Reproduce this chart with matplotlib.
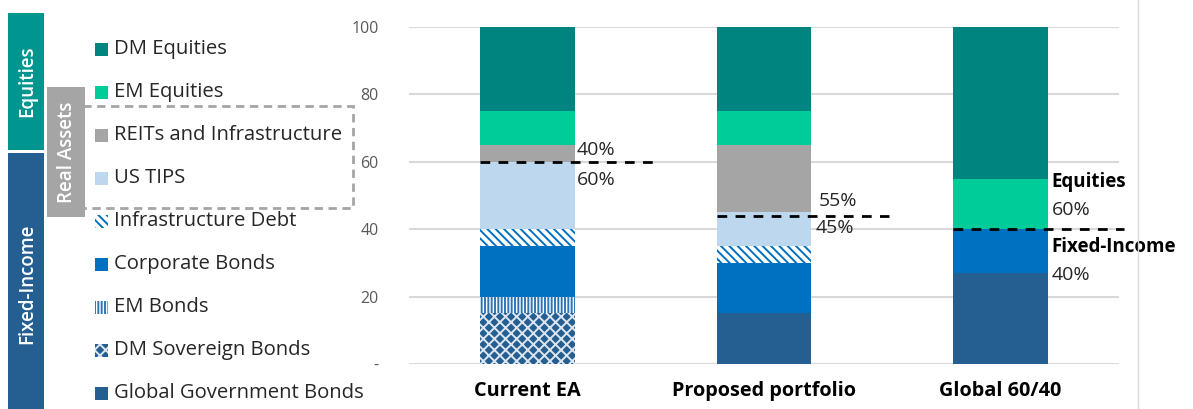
import numpy as np
import matplotlib
matplotlib.use("Agg")
import matplotlib.pyplot as plt
from matplotlib.patches import Rectangle

plt.rcParams['font.family'] = ['Open Sans', 'DejaVu Sans']
plt.rcParams['hatch.linewidth'] = 1.4

# data (stacked from bottom to top)
portfolios = ["Current EA", "Proposed portfolio", "Global 60/40"]
assets = ["Global Government Bonds", "DM Sovereign Bonds", "EM Bonds", "Corporate Bonds",
          "Infrastructure Debt", "US TIPS", "REITs and Infrastructure", "EM Equities", "DM Equities"]
current_ea = [0, 15, 5, 15, 5, 20, 5, 10, 25]
proposed = [15, 0, 0, 15, 5, 10, 20, 10, 25]
global_6040 = [27, 0, 0, 13, 0, 0, 0, 15, 45]
split_level = [60, 44, 40]
split_upper = ["40%", "55%", "60%"]
split_lower = ["60%", "45%", "40%"]

# styles per asset: facecolor, edgecolor (hatch colour), hatch
styles = {
    "Global Government Bonds": ("#255E91", "#255E91", None),
    "DM Sovereign Bonds": ("#255E91", "#DDE6F0", "xxx"),
    "EM Bonds": ("white", "#2E75B6", "|||||"),
    "Corporate Bonds": ("#0070C0", "#0070C0", None),
    "Infrastructure Debt": ("white", "#0070C0", "\\\\\\\\"),
    "US TIPS": ("#BDD7EE", "#BDD7EE", None),
    "REITs and Infrastructure": ("#A5A5A5", "#A5A5A5", None),
    "EM Equities": ("#00CC99", "#00CC99", None),
    "DM Equities": ("#00847F", "#00847F", None),
}

fig = plt.figure(figsize=(11.93, 4.09), dpi=100)
ax = fig.add_axes([409 / 1193, 45 / 409, 710 / 1193, 337 / 409])

data = np.array([current_ea, proposed, global_6040])
x = np.arange(len(portfolios))
bottom = np.zeros(len(portfolios))
for j, a in enumerate(assets):
    fc, ec, h = styles[a]
    ax.bar(x, data[:, j], 0.4, bottom=bottom, color=fc, edgecolor=ec, hatch=h,
           linewidth=0, zorder=2)
    bottom += data[:, j]

ax.set_xlim(-0.5, 2.5)
ax.set_ylim(0, 100)
ax.set_yticks([0, 20, 40, 60, 80, 100])
ax.set_yticklabels(["-", "20", "40", "60", "80", "100"], color="#595959", fontsize=11.5)
ax.yaxis.grid(True, color="#D9D9D9", linewidth=1.5, zorder=0)
ax.set_axisbelow(True)
ax.set_xticks(x)
ax.set_xticklabels(portfolios, fontsize=14.3, fontweight="bold")
ax.tick_params(axis="both", length=0, pad=22)
ax.tick_params(axis="x", pad=12)
for s in ax.spines.values():
    s.set_visible(False)

# split lines and labels
ends = [0.54, 1.53, 2.52]
for i in range(len(portfolios)):
    ax.plot([i - 0.2, ends[i]], [split_level[i], split_level[i]], color="black",
            linestyle=(0, (3.5, 3)), linewidth=2, zorder=3, clip_on=False)
lab = dict(fontsize=14, color="#262626", va="center")
ax.text(0.21, 63.5, split_upper[0], **lab)
ax.text(0.21, 54.5, split_lower[0], **lab)
ax.text(1.23, 48.5, split_upper[1], **lab)
ax.text(1.22, 40.5, split_lower[1], **lab)
ax.text(2.215, 54, "Equities", fontsize=13.5, fontweight="bold", color="black", va="center")
ax.text(2.215, 45.7, split_upper[2], **lab)
ax.text(2.215, 34.7, "Fixed-Income", fontsize=13.5, fontweight="bold", color="black", va="center")
ax.text(2.215, 26.5, split_lower[2], **lab)

# right border line
fig.add_artist(plt.Line2D([1138 / 1193, 1138 / 1193], [0, 1], color="#D9D9D9", linewidth=1,
                          transform=fig.transFigure))

# helper for pixel boxes
def px_rect(x0, y0, x1, y1, **kw):
    r = Rectangle((x0 / 1193, 1 - y1 / 409), (x1 - x0) / 1193, (y1 - y0) / 409,
                  transform=fig.transFigure, **kw)
    fig.add_artist(r)
    return r

# group bands
band = dict(rotation=90, color="white", fontsize=13.5, fontweight="semibold",
            ha="center", va="center")
px_rect(8, 13, 44, 150, facecolor="#00968F", edgecolor="none")
fig.text(27 / 1193, 1 - 81 / 409, "Equities", **band)
px_rect(8, 153, 44, 409, facecolor="#255E91", edgecolor="none")
fig.text(27 / 1193, 1 - 284 / 409, "Fixed-Income", **band)
px_rect(47, 87, 85, 217, facecolor="#A5A5A5", edgecolor="none")
fig.text(67 / 1193, 1 - 152 / 409, "Real Assets", **band)
px_rect(78, 106, 353, 208, facecolor="none", edgecolor="#A5A5A5", linewidth=2,
        linestyle=(0, (3, 2)))

# legend (top to bottom)
for k, a in enumerate(assets[::-1]):
    yc = 49 + k * 43
    fc, ec, h = styles[a]
    px_rect(95, yc - 6.5, 108, yc + 6.5, facecolor=fc, edgecolor=ec, hatch=h, linewidth=0)
    fig.text(114 / 1193, 1 - yc / 409, a, fontsize=14.6, color="#262626", va="center")

fig.savefig("out.png", dpi=100)
